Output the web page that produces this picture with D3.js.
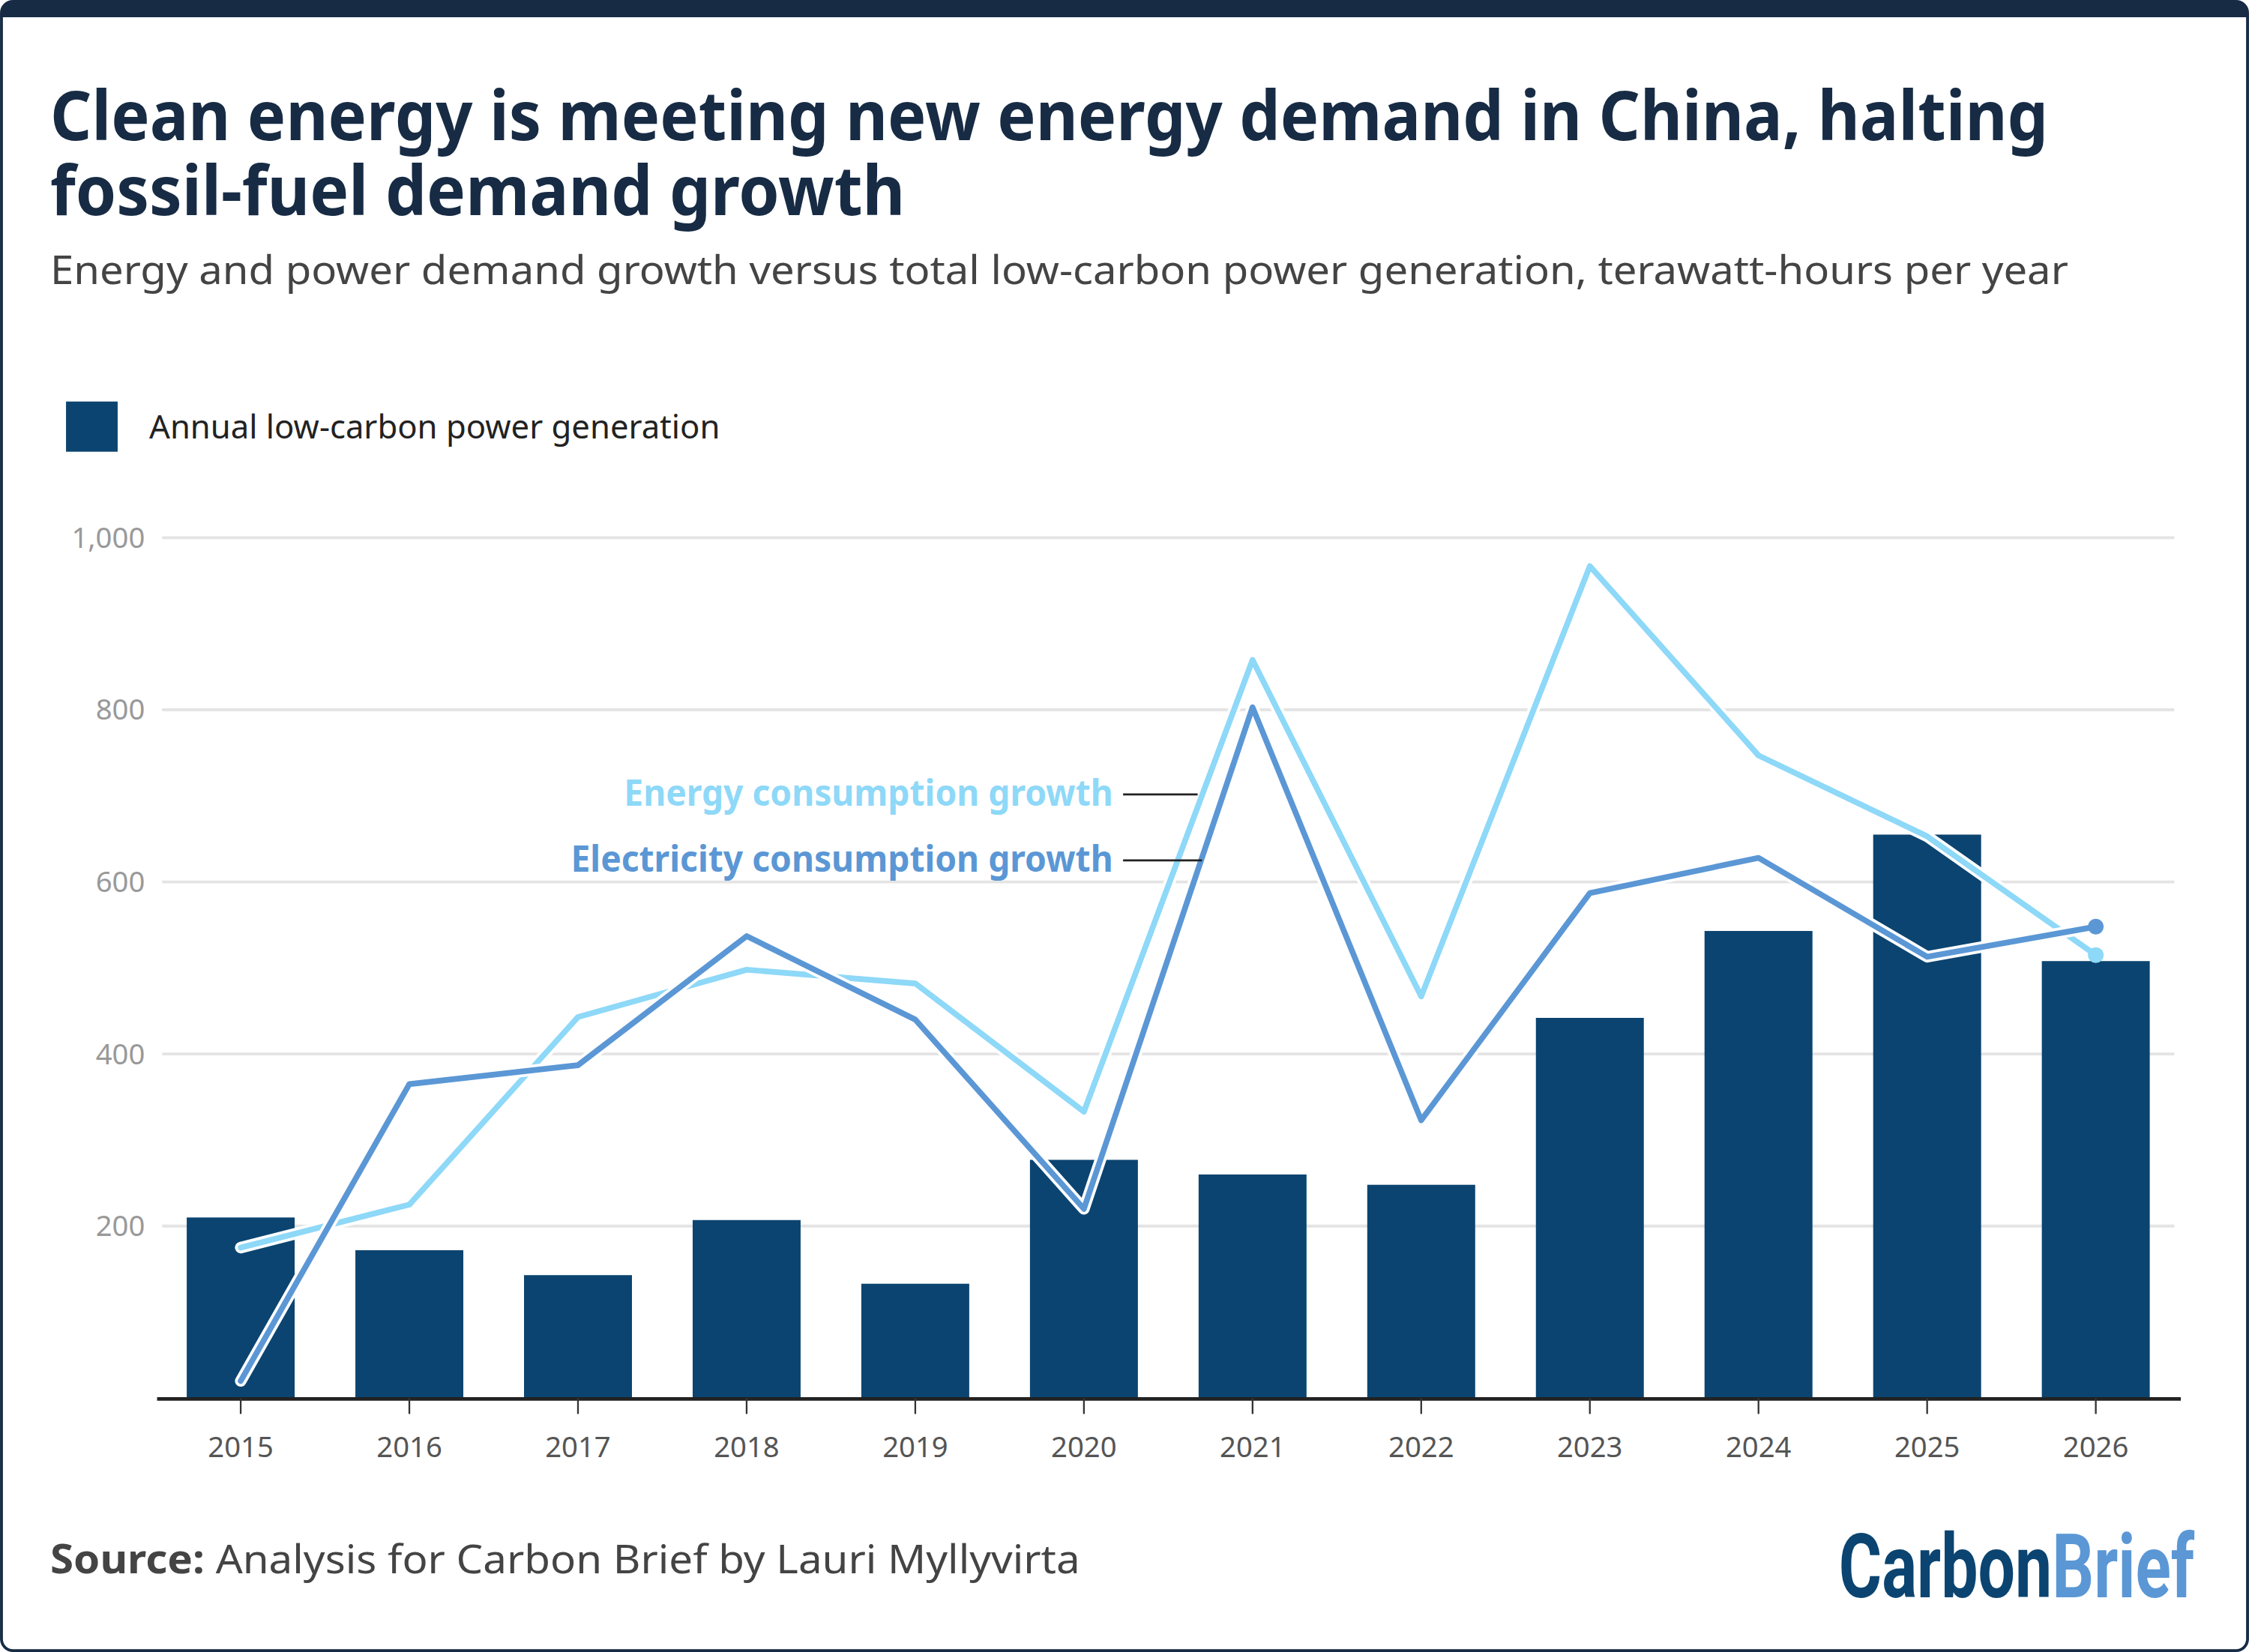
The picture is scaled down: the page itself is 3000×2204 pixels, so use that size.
<!DOCTYPE html>
<html><head><meta charset="utf-8">
<script src="https://cdn.jsdelivr.net/npm/d3@7"></script>
<style>body{margin:0;background:#fff}svg{display:block}</style>
</head><body>
<div id="chart"></div>
<script>
var years = ["2015","2016","2017","2018","2019","2020","2021","2022","2023","2024","2025","2026"];
var lowCarbon = [210, 172, 143, 207, 133, 277, 260, 248, 442, 543, 655, 508];
var energyGrowth = [175, 225, 443, 498, 482, 333, 858, 467, 967, 747, 653, 515];
var electricityGrowth = [20, 365, 387, 537, 440, 220, 803, 323, 587, 628, 513, 548];
var yTicks = [200, 400, 600, 800, 1000];

var W = 1568, H = 1152;
var svg = d3.select("#chart").append("svg")
    .attr("width", 3000).attr("height", 2204)
    .attr("viewBox", "0 0 " + W + " " + H)
    .style("font-family", "'Noto Sans', sans-serif");

// frame
svg.append("rect").attr("x", 1).attr("y", 1).attr("width", W - 2).attr("height", H - 2)
    .attr("rx", 8).attr("fill", "#fff").attr("stroke", "#172b44").attr("stroke-width", 2);
svg.append("path").attr("d", "M1,12 V9 Q1,1 9,1 H" + (W - 9) + " Q" + (W - 1) + ",1 " + (W - 1) + ",9 V12 Z")
    .attr("fill", "#172b44");

// titles
svg.append("text").attr("x", 35).attr("y", 98).attr("font-size", 48).attr("font-weight", 700)
    .attr("fill", "#172b44").attr("textLength", 1393).attr("lengthAdjust", "spacingAndGlyphs")
    .text("Clean energy is meeting new energy demand in China, halting");
svg.append("text").attr("x", 35).attr("y", 150).attr("font-size", 48).attr("font-weight", 700)
    .attr("fill", "#172b44").attr("textLength", 596).attr("lengthAdjust", "spacingAndGlyphs")
    .text("fossil-fuel demand growth");
svg.append("text").attr("x", 35).attr("y", 198).attr("font-size", 28)
    .attr("fill", "#444").attr("textLength", 1407).attr("lengthAdjust", "spacingAndGlyphs")
    .text("Energy and power demand growth versus total low-carbon power generation, terawatt-hours per year");

// legend
svg.append("rect").attr("x", 46).attr("y", 280).attr("width", 36).attr("height", 35).attr("fill", "#0b4470");
svg.append("text").attr("x", 104).attr("y", 306).attr("font-size", 23).attr("fill", "#222")
    .attr("textLength", 398).attr("lengthAdjust", "spacingAndGlyphs")
    .text("Annual low-carbon power generation");

var margin = {left: 113, right: 52, top: 375, bottom: 177};
var x = d3.scaleBand().domain(years).range([109, 1520]).paddingInner(0.36).paddingOuter(0.18);
var y = d3.scaleLinear().domain([0, 1000]).range([H - margin.bottom, margin.top]);

// grid
svg.append("g").selectAll("line").data(yTicks).enter().append("line")
    .attr("x1", margin.left).attr("x2", W - margin.right)
    .attr("y1", function(d) { return y(d); }).attr("y2", function(d) { return y(d); })
    .attr("stroke", "#e4e4e4").attr("stroke-width", 2);
svg.append("g").selectAll("text").data(yTicks).enter().append("text")
    .attr("x", 101).attr("y", function(d) { return y(d) + 7; })
    .attr("text-anchor", "end").attr("font-size", 20).attr("fill", "#999")
    .text(function(d) { return d3.format(",")(d); });

// bars
svg.append("g").selectAll("rect").data(years).enter().append("rect")
    .attr("x", function(d) { return x(d); })
    .attr("width", x.bandwidth())
    .attr("y", function(d, i) { return y(lowCarbon[i]); })
    .attr("height", function(d, i) { return y(0) - y(lowCarbon[i]); })
    .attr("fill", "#0b4470");

// x axis
var xa = svg.append("g").attr("transform", "translate(0," + y(0) + ")")
    .call(d3.axisBottom(x).tickSize(11).tickSizeOuter(0).tickPadding(16));
xa.select(".domain").attr("stroke", "#222").attr("stroke-width", 2.5);
xa.selectAll(".tick line").attr("stroke", "#333").attr("stroke-width", 1.2);
xa.selectAll("text").attr("font-size", 20).attr("fill", "#555").attr("font-family", "'Noto Sans', sans-serif");

var cx = function(d, i) { return x(years[i]) + x.bandwidth() / 2; };
var line = d3.line().x(function(d, i) { return cx(d, i); }).y(function(d) { return y(d); });

function drawLine(vals, color) {
    svg.append("path").datum(vals).attr("d", line).attr("fill", "none")
        .attr("stroke", "#fff").attr("stroke-width", 8).attr("stroke-linejoin", "round").attr("stroke-linecap", "round");
    svg.append("path").datum(vals).attr("d", line).attr("fill", "none")
        .attr("stroke", color).attr("stroke-width", 4).attr("stroke-linejoin", "round").attr("stroke-linecap", "round");
    svg.append("circle").attr("cx", cx(null, 11)).attr("cy", y(vals[11])).attr("r", 5.5).attr("fill", color);
}
drawLine(energyGrowth, "#8ed8f8");
drawLine(electricityGrowth, "#5b97d5");

// line labels
svg.append("text").attr("x", 776).attr("y", 562).attr("text-anchor", "end").attr("font-size", 25)
    .attr("font-weight", 700).attr("fill", "#8ed8f8").attr("textLength", 341).attr("lengthAdjust", "spacingAndGlyphs")
    .text("Energy consumption growth");
svg.append("line").attr("x1", 783).attr("x2", 835).attr("y1", 554).attr("y2", 554).attr("stroke", "#222").attr("stroke-width", 1.5);
svg.append("text").attr("x", 776).attr("y", 608).attr("text-anchor", "end").attr("font-size", 25)
    .attr("font-weight", 700).attr("fill", "#5b97d5").attr("textLength", 378).attr("lengthAdjust", "spacingAndGlyphs")
    .text("Electricity consumption growth");
svg.append("line").attr("x1", 783).attr("x2", 838).attr("y1", 600).attr("y2", 600).attr("stroke", "#222").attr("stroke-width", 1.5);

// footer
var src = svg.append("text").attr("x", 35).attr("y", 1097).attr("font-size", 28).attr("fill", "#444")
    .attr("textLength", 718).attr("lengthAdjust", "spacingAndGlyphs");
src.append("tspan").attr("font-weight", 700).text("Source:");
src.append("tspan").text(" Analysis for Carbon Brief by Lauri Myllyvirta");

var logo = svg.append("text").attr("x", 1530).attr("y", 1114).attr("text-anchor", "end")
    .attr("font-size", 62).attr("font-weight", 700)
    .attr("font-family", "'Liberation Sans Narrow', 'Roboto', sans-serif")
    .attr("textLength", 248).attr("lengthAdjust", "spacingAndGlyphs");
logo.append("tspan").attr("fill", "#0b4470").text("Carbon");
logo.append("tspan").attr("fill", "#5b97d5").text("Brief");
</script>
</body></html>
